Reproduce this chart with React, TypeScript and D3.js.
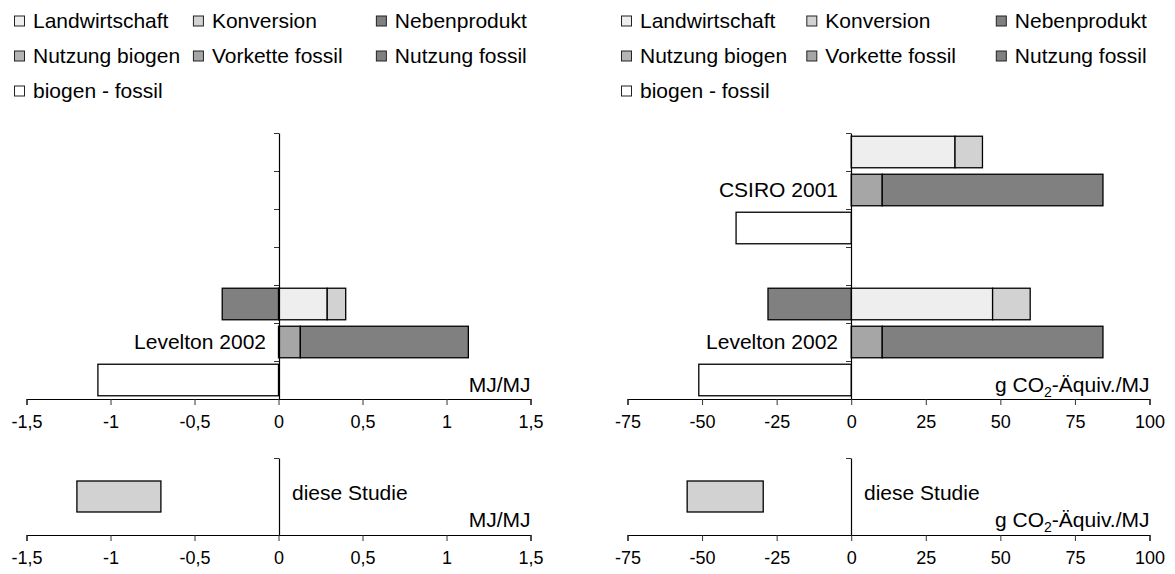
import { useEffect, useRef } from 'react';
import * as d3 from 'd3';

const studies = ['CSIRO 2001', 'Levelton 2002'];

const seriesNames = [
  'Landwirtschaft',
  'Konversion',
  'Nebenprodukt',
  'Nutzung biogen',
  'Vorkette fossil',
  'Nutzung fossil',
  'biogen - fossil'
];
const seriesColors = ['#eeeeee', '#d2d2d2', '#808080', '#b4b4b4', '#a6a6a6', '#808080', '#ffffff'];
// which bar row (within a study) each series sits in
const seriesRow = [0, 0, 0, 0, 1, 1, 2];

// MJ/MJ, CSIRO hat keine Energiewerte
const landwirtschaftMJ = [null, 0.29];
const konversionMJ = [null, 0.11];
const nebenproduktMJ = [null, -0.335];
const nutzungBiogenMJ = [null, 0];
const vorketteFossilMJ = [null, 0.13];
const nutzungFossilMJ = [null, 1.0];
const differenzMJ = [null, -1.075];
const dieseStudieMJ = [-1.2, -0.7];
const xTicksMJ = [-1.5, -1, -0.5, 0, 0.5, 1, 1.5];

// g CO2-Äquiv./MJ
const landwirtschaftCO2 = [34.8, 47.4];
const konversionCO2 = [9.2, 12.6];
const nebenproduktCO2 = [0, -27.9];
const nutzungBiogenCO2 = [0, 0];
const vorketteFossilCO2 = [10.4, 10.4];
const nutzungFossilCO2 = [74.0, 74.0];
const differenzCO2 = [-38.6, -51.1];
const dieseStudieCO2 = [-55, -29.5];
const xTicksCO2 = [-75, -50, -25, 0, 25, 50, 75, 100];

const FONT = 'Liberation Sans, Arial, sans-serif';
const deFormat = d3
  .formatLocale({ decimal: ',', thousands: '.', grouping: [3], currency: ['', ' €'], minus: '-' })
  .format('~g');

interface PanelProps {
  range: [number, number];
  domain: [number, number];
  ticks: number[];
  series: (number | null)[][];
  dieseStudie: number[];
  legendX: number;
  unit: JSX.Element;
}

const Panel = (props: PanelProps): JSX.Element => {
  const xAxisRef = useRef<SVGGElement>(null);
  const yAxisRef = useRef<SVGGElement>(null);
  const xAxis2Ref = useRef<SVGGElement>(null);
  const yAxis2Ref = useRef<SVGGElement>(null);

  const top = 133;
  const bottom = 399;
  const top2 = 458;
  const bottom2 = 535;
  const nRows = studies.length * 4 - 1;

  const x = d3.scaleLinear(props.domain, props.range);
  const x0 = Math.round(x(0));
  const y = d3.scaleBand<number>(d3.range(nRows), [top, bottom]).paddingInner(0.17).paddingOuter(0.085);
  const yLines = d3.scaleLinear([0, nRows], [top, bottom]);
  const y2 = d3.scaleBand<string>(['diese Studie'], [top2, bottom2]).padding(0.426);
  const y2Lines = d3.scaleLinear([0, 1], [top2, bottom2]);

  // one table row per bar row, gap row between the studies
  const table = d3.range(nRows).map((r) => {
    const row: Record<string, number> = {};
    seriesNames.forEach((name, k) => {
      const study = Math.floor(r / 4);
      const v = r % 4 === seriesRow[k] ? props.series[k][study] : null;
      row[name] = v ?? 0;
    });
    return row;
  });
  const stacked = d3.stack<Record<string, number>>().keys(seriesNames).offset(d3.stackOffsetDiverging)(table);

  useEffect(() => {
    const styleAxis = (g: d3.Selection<SVGGElement, unknown, null, undefined>) => {
      g.select('.domain').attr('stroke', '#000').attr('stroke-width', 1.2);
      g.selectAll('.tick line').attr('stroke', '#333');
      g.selectAll('.tick text').attr('font-family', FONT).attr('font-size', 18).attr('fill', '#000');
    };
    [xAxisRef, xAxis2Ref].forEach((ref) => {
      d3.select(ref.current)
        .call(
          d3
            .axisBottom(x)
            .tickValues(props.ticks)
            .tickSize(6)
            .tickSizeOuter(6)
            .tickPadding(10)
            .tickFormat((d) => deFormat(d as number))
        )
        .call(styleAxis);
    });
    d3.select(yAxisRef.current)
      .call(d3.axisLeft(yLines).tickValues(d3.range(nRows + 1)).tickSize(5).tickSizeOuter(0).tickFormat(() => ''))
      .call(styleAxis);
    d3.select(yAxis2Ref.current)
      .call(d3.axisLeft(y2Lines).tickValues([0]).tickSize(5).tickSizeOuter(0).tickFormat(() => ''))
      .call(styleAxis);
  });

  const width = props.range[1] - props.range[0];
  const legendCols = [0, 0.355, 0.718].map((f) => props.legendX + f * width);
  const legendRows = [21, 56, 91];

  return (
    <g fontFamily={FONT}>
      {seriesNames.map((name, k) => {
        const lx = legendCols[k % 3];
        const ly = legendRows[Math.floor(k / 3)];
        return (
          <g key={name} transform={`translate(${lx},${ly})`}>
            <rect x={0.5} y={-5} width={10} height={10} fill={seriesColors[k]} stroke="#222" strokeWidth={1} />
            <text x={19} dy="0.35em" fontSize={21}>
              {name}
            </text>
          </g>
        );
      })}

      {stacked.map((layer, k) =>
        layer.map((d, r) =>
          Math.abs(d[1] - d[0]) > 1e-9 ? (
            <rect
              key={`${layer.key}-${r}`}
              x={x(Math.min(d[0], d[1]))}
              y={y(r)}
              width={Math.abs(x(d[1]) - x(d[0]))}
              height={y.bandwidth()}
              fill={seriesColors[k]}
              stroke="#000"
              strokeWidth={1.3}
            />
          ) : null
        )
      )}

      {studies.map((s, i) =>
        props.series.some((arr) => arr[i] !== null) ? (
          <text
            key={s}
            x={x0 - 13}
            y={(y(i * 4 + 1) ?? 0) + y.bandwidth() / 2}
            dy="0.35em"
            textAnchor="end"
            fontSize={21}
          >
            {s}
          </text>
        ) : null
      )}

      <text x={props.range[1]} y={bottom - 7} textAnchor="end" fontSize={21}>
        {props.unit}
      </text>
      <g ref={yAxisRef} transform={`translate(${x0},0)`} />
      <g ref={xAxisRef} transform={`translate(0,${bottom})`} />

      <rect
        x={x(props.dieseStudie[0])}
        y={y2('diese Studie')}
        width={x(props.dieseStudie[1]) - x(props.dieseStudie[0])}
        height={y2.bandwidth()}
        fill="#d2d2d2"
        stroke="#000"
        strokeWidth={1.3}
      />
      <text x={x0 + 13} y={(y2('diese Studie') ?? 0) + y2.bandwidth() / 2 + 3.5} fontSize={21}>
        diese Studie
      </text>
      <text x={props.range[1]} y={bottom2 - 8} textAnchor="end" fontSize={21}>
        {props.unit}
      </text>
      <g ref={yAxis2Ref} transform={`translate(${x0},0)`} />
      <g ref={xAxis2Ref} transform={`translate(0,${bottom2})`} />
    </g>
  );
};

const App = (): JSX.Element => {
  const co2Unit = (
    <>
      g CO
      <tspan fontSize={14} dy={5}>
        2
      </tspan>
      <tspan dy={-5}>-Äquiv./MJ</tspan>
    </>
  );
  return (
    <svg
      width={1175}
      height={574}
      viewBox="0 0 1175 574"
      style={{ position: 'absolute', left: 0, top: 0, background: '#fff' }}
    >
      <Panel
        range={[26.5, 530.5]}
        domain={[-1.5, 1.5]}
        ticks={xTicksMJ}
        series={[
          landwirtschaftMJ,
          konversionMJ,
          nebenproduktMJ,
          nutzungBiogenMJ,
          vorketteFossilMJ,
          nutzungFossilMJ,
          differenzMJ
        ]}
        dieseStudie={dieseStudieMJ}
        legendX={14}
        unit={<>MJ/MJ</>}
      />
      <Panel
        range={[627.5, 1149.5]}
        domain={[-75, 100]}
        ticks={xTicksCO2}
        series={[
          landwirtschaftCO2,
          konversionCO2,
          nebenproduktCO2,
          nutzungBiogenCO2,
          vorketteFossilCO2,
          nutzungFossilCO2,
          differenzCO2
        ]}
        dieseStudie={dieseStudieCO2}
        legendX={621}
        unit={co2Unit}
      />
    </svg>
  );
};

export default App;
